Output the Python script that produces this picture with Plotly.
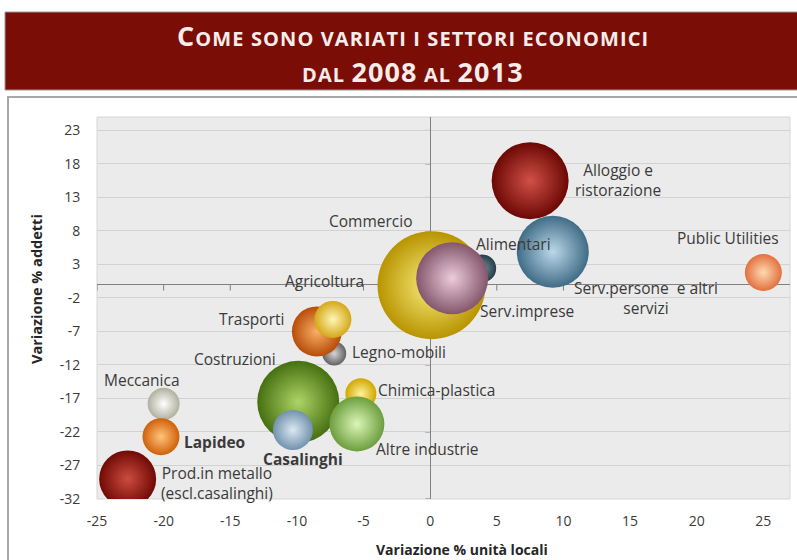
import plotly.graph_objects as go

# ---------------- data ----------------
categories = ["Legno-mobili", "Trasporti", "Agricoltura", "Costruzioni", "Casalinghi",
              "Chimica-plastica", "Altre industrie", "Alimentari", "Commercio", "Serv.imprese",
              "Alloggio e<br>ristorazione", "Serv.persone  e altri<br>servizi", "Meccanica",
              "Lapideo", "Prod.in metallo<br>(escl.casalinghi)", "Public Utilities"]
var_unita_locali = [-7.2, -8.5, -7.3, -9.9, -10.3, -5.2, -5.5, 3.9, 0.1, 1.65,
                    7.5, 9.2, -20.0, -20.2, -22.7, 25.0]
var_addetti = [-10.3, -7.0, -5.2, -17.5, -21.7, -16.3, -20.8, 2.4, -0.1, 0.95,
               15.5, 4.9, -17.8, -22.7, -29.0, 1.8]
bubble_value = [24, 50, 37, 82, 40, 31, 55, 28, 108, 72, 77, 72, 32, 37, 57, 37]

x_ticks = [-25, -20, -15, -10, -5, 0, 5, 10, 15, 20, 25]
y_ticks = [23, 18, 13, 8, 3, -2, -7, -12, -17, -22, -27, -32]

# ---------------- styles ----------------
edge_colors = ["#626262", "#b84c08", "#d4a818", "#466f10", "#7192ae",
               "#d0a800", "#6c9e3e", "#253d46", "#b89400", "#84566c",
               "#6c0804", "#406c86", "#b0b0a0", "#d0600a", "#700a04", "#e2703e"]
center_colors = ["#d4d4d4", "#f8b068", "#fff6b8", "#acd466", "#dce8f2",
                 "#fff29a", "#dcf6b8", "#7494a0", "#faee80", "#ecccda",
                 "#d05048", "#bcd8ea", "#ffffff", "#ffc47a", "#cc4c40", "#ffdab0"]
label_dx = [65, -65, -8, -63, 10, 76, 71, 31, -61, 75, 88, 93, -22, 54, 89, -35]
label_dy = [2, 12, 38, 43, -29, 4, -25, 24, 64, -33, 1, -46, 24, -5, -4, 34]
bold_labels = {"Lapideo", "Casalinghi"}

L, R, T, B = 97, 7, 117, 61
W, H = 797, 560
PW, PH = W - L - R, H - T - B


def px_x(p):
    return (p - L) / PW


def px_y(p):
    return (H - B - p) / PH


fig = go.Figure()
fig.add_trace(go.Scatter(
    x=var_unita_locali, y=var_addetti, mode="markers",
    marker=dict(size=bubble_value, sizemode="diameter", sizeref=1,
                color=edge_colors, line=dict(width=0),
                gradient=dict(type="radial", color=center_colors),
                opacity=1),
    hovertext=categories, hoverinfo="text", cliponaxis=True, showlegend=False))

annotations = []
for cat, xv, yv, dx, dy in zip(categories, var_unita_locali, var_addetti, label_dx, label_dy):
    txt = f"<b>{cat}</b>" if cat in bold_labels else cat
    annotations.append(dict(x=xv, y=yv, xref="x", yref="y", text=txt, showarrow=False,
                            xshift=dx, yshift=dy, xanchor="center", yanchor="middle",
                            align="center",
                            font=dict(family="Open Sans", size=15.5, color="#3a3a3a")))

# title (small caps emulated)
small = 20
big = 27
ls = "letter-spacing:1.1px"


def sc(t):
    return f"<span style='font-size:{small}px;{ls}'>{t}</span>"


def bg(t):
    return f"<span style='font-size:{big}px;{ls}'>{t}</span>"


title_font = dict(family="Open Sans", size=big, color="#f6eceb", weight="bold")
annotations.append(dict(
    x=px_x(413), y=px_y(35), xref="paper", yref="paper", showarrow=False,
    xanchor="center", yanchor="middle",
    text=bg("C") + sc("OME SONO VARIATI I SETTORI ECONOMICI"),
    font=title_font))
annotations.append(dict(
    x=px_x(413), y=px_y(71), xref="paper", yref="paper", showarrow=False,
    xanchor="center", yanchor="middle",
    text=sc("DAL ") + bg("2008") + sc(" AL ") + bg("2013"),
    font=title_font))
# axis titles
annotations.append(dict(
    x=px_x(462), y=px_y(549), xref="paper", yref="paper", showarrow=False,
    xanchor="center", yanchor="middle", text="<b>Variazione % unità locali</b>",
    font=dict(family="Open Sans", size=14, color="#262626")))
annotations.append(dict(
    x=px_x(36), y=px_y(289), xref="paper", yref="paper", showarrow=False,
    xanchor="center", yanchor="middle", text="<b>Variazione % addetti</b>", textangle=-90,
    font=dict(family="Open Sans", size=14.5, color="#262626")))

shapes = []
# title banner
shapes.append(dict(type="rect", xref="paper", yref="paper",
                   x0=px_x(5), x1=px_x(805), y0=px_y(90), y1=px_y(12),
                   fillcolor="#7a0d05", line=dict(color="#9a9a9a", width=1), layer="below"))
# chart frame
shapes.append(dict(type="rect", xref="paper", yref="paper",
                   x0=px_x(8), x1=px_x(810), y0=px_y(570), y1=px_y(97),
                   fillcolor="rgba(0,0,0,0)", line=dict(color="#a8a8a8", width=2), layer="below"))
# plot border
shapes.append(dict(type="rect", xref="paper", yref="paper", x0=0, x1=1, y0=0, y1=1,
                   fillcolor="rgba(0,0,0,0)", line=dict(color="#d6d6d6", width=1), layer="below"))
# tick marks on the axes crossing at zero
for xt in x_ticks:
    shapes.append(dict(type="line", xref="x", yref="y", ysizemode="pixel", yanchor=0,
                       x0=xt, x1=xt, y0=0, y1=-6, line=dict(color="#7f7f7f", width=1),
                       layer="below"))
for yt in y_ticks:
    shapes.append(dict(type="line", xref="x", yref="y", xsizemode="pixel", xanchor=0,
                       x0=-5, x1=0, y0=yt, y1=yt, line=dict(color="#7f7f7f", width=1),
                       layer="below"))

fig.update_layout(
    width=W, height=H, margin=dict(l=L, r=R, t=T, b=B, pad=0),
    paper_bgcolor="white", plot_bgcolor="#ebebeb",
    annotations=annotations, shapes=shapes, showlegend=False,
    xaxis=dict(range=[-25, 27], tickvals=x_ticks, ticktext=[str(v) for v in x_ticks],
               showgrid=False, zeroline=True, zerolinecolor="#808080", zerolinewidth=1.2,
               ticks="outside", ticklen=9, tickcolor="rgba(0,0,0,0)",
               tickfont=dict(family="Open Sans", size=14, color="#3a3a3a"),
               showline=False, fixedrange=True),
    yaxis=dict(range=[-32, 25], tickvals=y_ticks, ticktext=[str(v) for v in y_ticks],
               showgrid=True, gridcolor="#d2d2d2", gridwidth=1,
               zeroline=True, zerolinecolor="#808080", zerolinewidth=1.2,
               ticks="outside", ticklen=13, tickcolor="rgba(0,0,0,0)",
               tickfont=dict(family="Open Sans", size=14, color="#3a3a3a"),
               showline=False, fixedrange=True),
)
fig.write_html("out.html")
